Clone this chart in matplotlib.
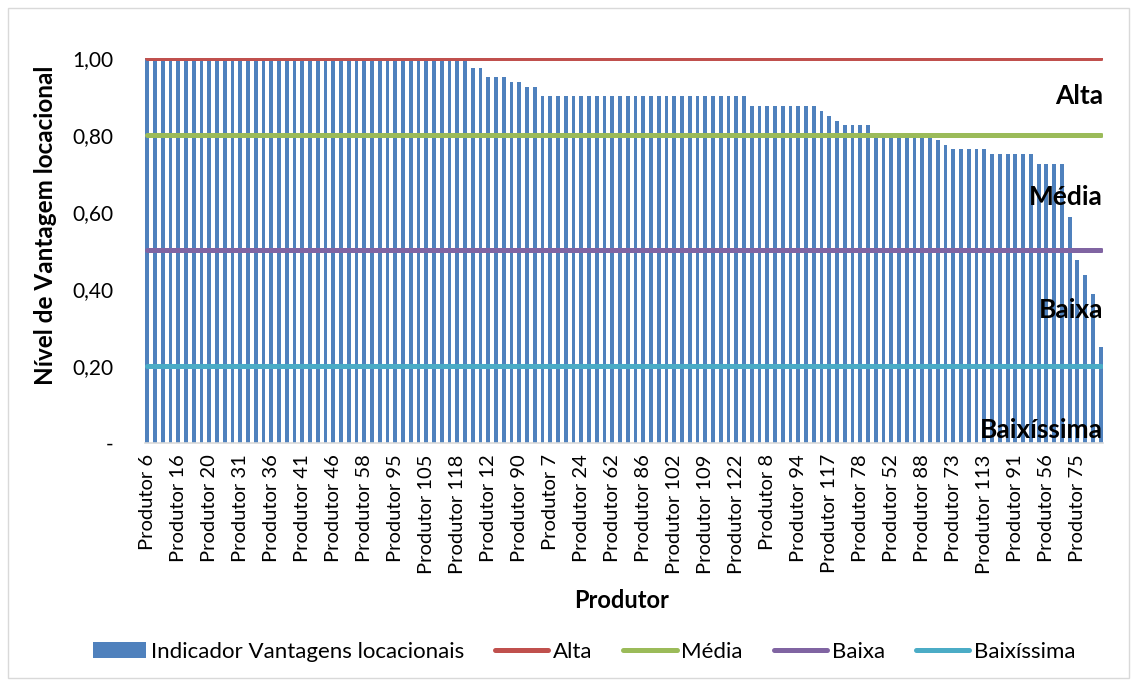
import numpy as np
from matplotlib import pyplot as plt

plt.rcParams['font.family'] = ['Lato', 'DejaVu Sans']

# indicator of each producer (124 bars, sorted)
indicador = [
    1.0, 1.0, 1.0, 1.0, 1.0, 1.0, 1.0, 1.0, 1.0, 1.0, 1.0, 1.0, 1.0, 1.0,
    1.0, 1.0, 1.0, 1.0, 1.0, 1.0, 1.0, 1.0, 1.0, 1.0, 1.0, 1.0, 1.0, 1.0,
    1.0, 1.0, 1.0, 1.0, 1.0, 1.0, 1.0, 1.0, 1.0, 1.0, 1.0, 1.0, 1.0, 1.0,
    0.975, 0.975, 0.95, 0.95, 0.95, 0.9375, 0.9375, 0.925, 0.925,
    0.90, 0.90, 0.90, 0.90, 0.90, 0.90, 0.90, 0.90, 0.90, 0.90, 0.90, 0.90,
    0.90, 0.90, 0.90, 0.90, 0.90, 0.90, 0.90, 0.90, 0.90, 0.90, 0.90, 0.90,
    0.90, 0.90, 0.90,
    0.875, 0.875, 0.875, 0.875, 0.875, 0.875, 0.875, 0.875, 0.875,
    0.8625, 0.85, 0.8375, 0.825, 0.825, 0.825, 0.825,
    0.80, 0.80, 0.80, 0.80, 0.80, 0.80, 0.80, 0.80,
    0.7875, 0.775, 0.7625, 0.7625, 0.7625, 0.7625, 0.7625,
    0.75, 0.75, 0.75, 0.75, 0.75, 0.75,
    0.725, 0.725, 0.725, 0.725,
    0.5875, 0.475, 0.4375, 0.3875, 0.25,
]
# labels shown on the axis (every 4th producer)
rotulos = ['Produtor 6', 'Produtor 16', 'Produtor 20', 'Produtor 31', 'Produtor 36',
           'Produtor 41', 'Produtor 46', 'Produtor 58', 'Produtor 95', 'Produtor 105',
           'Produtor 118', 'Produtor 12', 'Produtor 90', 'Produtor 7', 'Produtor 24',
           'Produtor 62', 'Produtor 86', 'Produtor 102', 'Produtor 109', 'Produtor 122',
           'Produtor 8', 'Produtor 94', 'Produtor 117', 'Produtor 78', 'Produtor 52',
           'Produtor 88', 'Produtor 73', 'Produtor 113', 'Produtor 91', 'Produtor 56',
           'Produtor 75']
niveis = ['Alta', 'Média', 'Baixa', 'Baixíssima']
limites = [1.0, 0.8, 0.5, 0.2]
cores = ['#C0504D', '#9BBB59', '#8064A2', '#4BACC6']

n = len(indicador)
x = np.arange(n)

fig = plt.figure(figsize=(11.37, 6.86), dpi=100)
ax = fig.add_axes([0.1275, 0.3542, 0.8425, 0.5613])

barras = ax.bar(x, indicador, width=0.5, color='#4F81BD',
                label='Indicador Vantagens locacionais', zorder=2)
handles = [barras]
for nome, lim, cor in zip(niveis, limites, cores):
    ln, = ax.plot([x[0], x[-1]], [lim, lim], color=cor, lw=3.6, solid_capstyle='round',
                  label=nome, zorder=3)
    handles.append(ln)

ax.set_xlim(-0.3, n - 0.7)
ax.set_ylim(0, 1.0)
ax.set_yticks([0, 0.2, 0.4, 0.6, 0.8, 1.0])
ax.set_yticklabels(['-', '0,20', '0,40', '0,60', '0,80', '1,00'])
ax.set_xticks(x[::4])
ax.set_xticklabels(rotulos, rotation=90, va='top', ha='center')
ax.tick_params(axis='y', length=0, pad=23, labelsize=15)
ax.tick_params(axis='x', length=0, pad=8, labelsize=14.5)
for s in ['top', 'right', 'left']:
    ax.spines[s].set_visible(False)
ax.spines['bottom'].set_color('#D9D9D9')
ax.spines['bottom'].set_linewidth(1.2)

# region labels
ax.text(1.0, 0.9, 'Alta', transform=ax.transAxes, ha='right', va='center',
        fontsize=19, fontweight='bold')
ax.text(1.0, 0.64, 'Média', transform=ax.transAxes, ha='right', va='center',
        fontsize=19, fontweight='bold')
ax.text(1.0, 0.345, 'Baixa', transform=ax.transAxes, ha='right', va='center',
        fontsize=19, fontweight='bold')
ax.text(1.0, 0.035, 'Baixíssima', transform=ax.transAxes, ha='right', va='center',
        fontsize=19, fontweight='bold')

fig.text(46 / 1137, 1 - 225 / 686, 'Nível de Vantagem locacional', rotation=90,
         ha='center', va='center', fontsize=17.5, fontweight='bold')
fig.text(622 / 1137, 1 - 600 / 686, 'Produtor', ha='center', va='center',
         fontsize=17, fontweight='bold')

fig.legend(handles=handles, loc='center', bbox_to_anchor=(584 / 1137, 1 - 652 / 686),
           ncol=5, frameon=False, fontsize=16, handlelength=2.4, handletextpad=0.2,
           columnspacing=1.4)

fig.patches.append(plt.Rectangle((8 / 1137, 8 / 686), 1 - 16 / 1137, 1 - 16 / 686,
                                 transform=fig.transFigure, fill=False,
                                 edgecolor='#D9D9D9', lw=1))

fig.savefig('out.png', dpi=100)
